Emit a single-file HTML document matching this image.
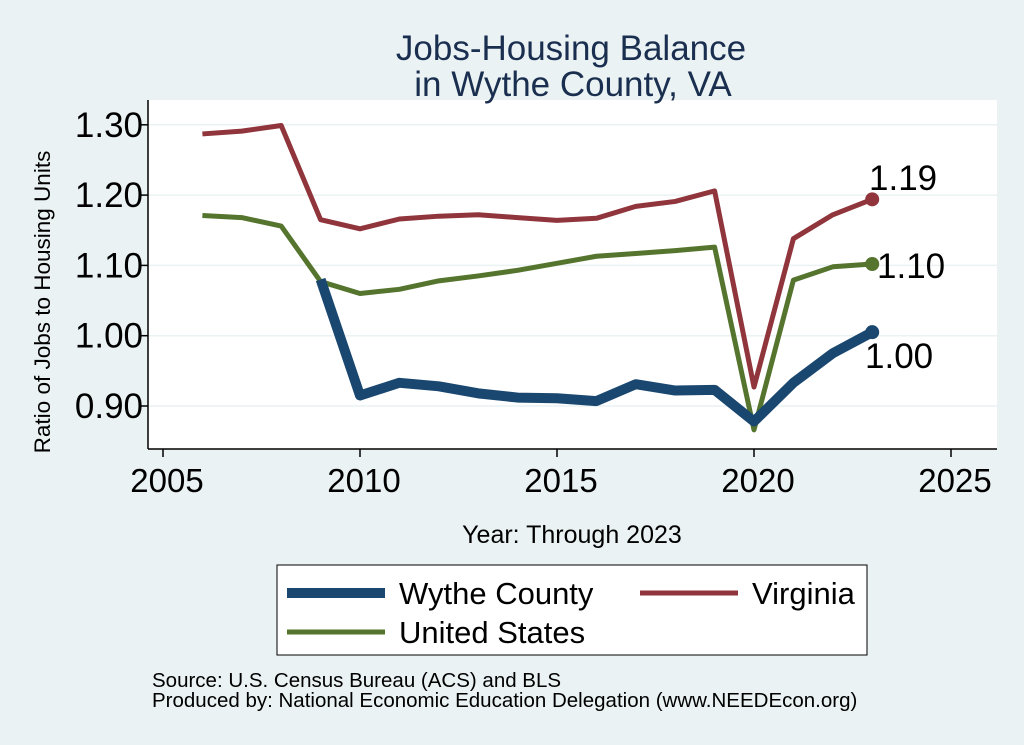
<!DOCTYPE html>
<html><head><meta charset="utf-8"><style>
body{margin:0;background:#eaf2f3;}
svg{display:block;font-family:"Liberation Sans",sans-serif;}
</style></head><body>
<svg id="s" width="1024" height="745" viewBox="0 0 1024 745">
<rect width="1024" height="745" fill="#eaf2f3"/>
<rect x="148" y="100" width="849" height="349" fill="#fff"/>
<g id="grid" stroke="#eaf2f3" stroke-width="1.5"></g>
<line x1="148" y1="100" x2="148" y2="449" stroke="#000" stroke-width="1.5"/>
<line x1="148" y1="449" x2="997" y2="449" stroke="#000" stroke-width="1.5"/>
<g id="ticks" stroke="#000" stroke-width="1.5"></g>
<g id="ylab" font-size="35" fill="#000"></g>
<g id="xlab" font-size="33" fill="#000"></g>
<text x="571" y="60" font-size="35" fill="#1a2f4f" text-anchor="middle">Jobs-Housing Balance</text>
<text x="573" y="96" font-size="35" fill="#1a2f4f" text-anchor="middle">in Wythe County, VA</text>
<text transform="translate(50,302) rotate(-90)" font-size="22.5" text-anchor="middle">Ratio of Jobs to Housing Units</text>
<text x="572" y="543" font-size="25" text-anchor="middle">Year: Through 2023</text>
<g id="series" fill="none" stroke-linejoin="round"></g>
<text x="869" y="190" font-size="35">1.19</text>
<text x="877" y="278" font-size="35">1.10</text>
<text x="865" y="368" font-size="35">1.00</text>
<rect x="277" y="565" width="590" height="90" fill="#fff" stroke="#000" stroke-width="1"/>
<line x1="287" y1="593" x2="385" y2="593" stroke="#1a476f" stroke-width="10"/>
<text x="399" y="604" font-size="31">Wythe County</text>
<line x1="640" y1="593" x2="738" y2="593" stroke="#90353b" stroke-width="5"/>
<text x="752" y="604" font-size="31">Virginia</text>
<line x1="287" y1="632" x2="385" y2="632" stroke="#55752f" stroke-width="5"/>
<text x="399" y="643" font-size="31">United States</text>
<text x="152" y="687" font-size="20.5">Source: U.S. Census Bureau (ACS) and BLS</text>
<text x="152" y="707" font-size="20.5">Produced by: National Economic Education Delegation (www.NEEDEcon.org)</text>
</svg>
<script>
var NS="http://www.w3.org/2000/svg";
function X(yr){return 360+(yr-2010)*39.4;}
function Y(v){return 406-(v-0.9)*703;}
function el(p,t,a){var e=document.createElementNS(NS,t);for(var k in a)e.setAttribute(k,a[k]);document.getElementById(p).appendChild(e);return e;}
[0.9,1.0,1.1,1.2,1.3].forEach(function(v){
 el("grid","line",{x1:148,x2:997,y1:Y(v),y2:Y(v)});
 el("ticks","line",{x1:140,x2:148,y1:Y(v),y2:Y(v)});
 var t=el("ylab","text",{x:143,y:Y(v)+12,"text-anchor":"end"});t.textContent=v.toFixed(2);
});
[2005,2010,2015,2020,2025].forEach(function(yr){
 el("ticks","line",{x1:X(yr),x2:X(yr),y1:449,y2:457});
 var t=el("xlab","text",{x:X(yr)+4,y:492,"text-anchor":"middle"});t.textContent=yr;
});
function path(start,vals,col,w){
 var d="";vals.forEach(function(v,i){d+=(i?"L":"M")+X(start+i)+","+Y(v);});
 el("series","path",{d:d,stroke:col,"stroke-width":w});
 var l=vals[vals.length-1];
 el("series","circle",{cx:X(start+vals.length-1),cy:Y(l),r:7,fill:col,stroke:"none"});
}
path(2006,[1.287,1.291,1.299,1.165,1.152,1.166,1.170,1.172,1.168,1.164,1.167,1.184,1.191,1.206,0.927,1.138,1.172,1.194],"#90353b",5);
path(2006,[1.171,1.168,1.156,1.077,1.060,1.066,1.078,1.085,1.093,1.103,1.113,1.117,1.121,1.126,0.866,1.079,1.098,1.102],"#55752f",5);
path(2009,[1.08,0.915,0.933,0.928,0.918,0.912,0.911,0.907,0.931,0.922,0.923,0.878,0.933,0.975,1.005],"#1a476f",10);
</script>
</body></html>
